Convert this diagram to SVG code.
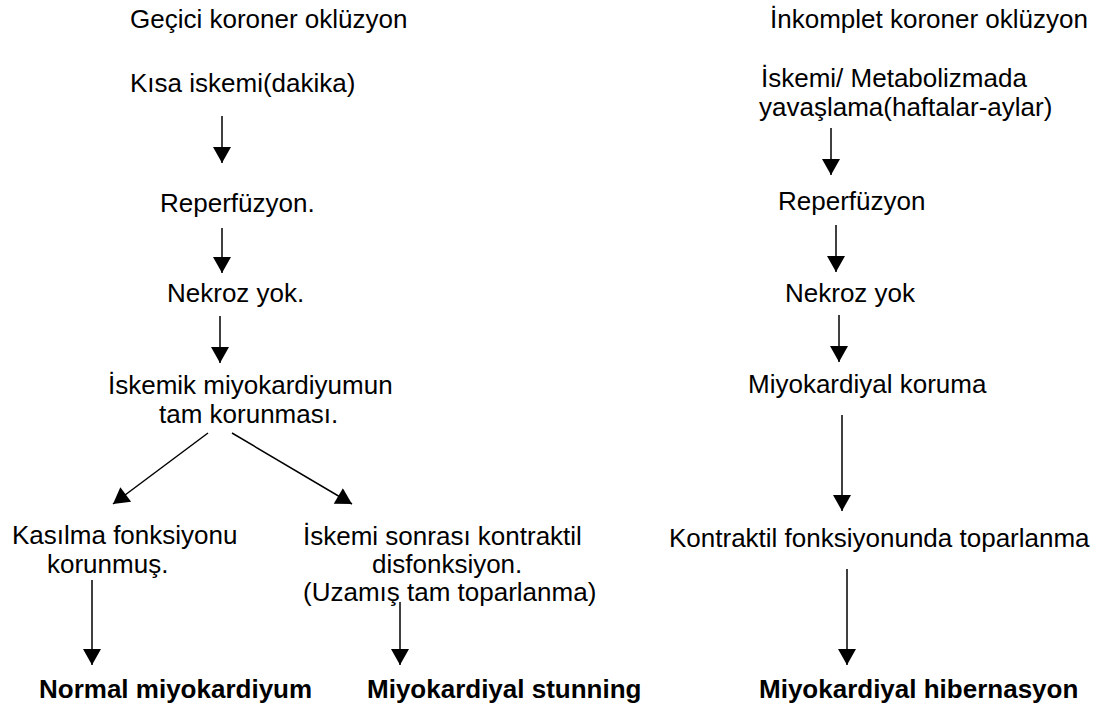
<svg xmlns="http://www.w3.org/2000/svg" width="1110" height="713" viewBox="0 0 1110 713">
<style>
text{font-family:"Liberation Sans",Arial,sans-serif;font-size:26px;fill:#000}
.b{font-weight:bold}
.c line{stroke:#000;stroke-width:1.5;marker-end:url(#ah)}
</style>
<defs>
<marker id="ah" markerUnits="userSpaceOnUse" markerWidth="18" markerHeight="18" refX="15" refY="8.5" orient="auto" viewBox="0 0 15 17">
<path d="M0,0 L15,8.5 L0,17 Z" fill="#000"/>
</marker>
</defs>
<rect width="1110" height="713" fill="#fff"/>
<g id="n1"><text x="130" y="28">Geçici koroner oklüzyon</text></g>
<g id="n2"><text x="130" y="92">Kısa iskemi(dakika)</text></g>
<g id="n3"><text x="160" y="212">Reperfüzyon.</text></g>
<g id="n4"><text x="167" y="302">Nekroz yok.</text></g>
<g id="n5"><text x="108" y="394">İskemik miyokardiyumun</text><text x="159" y="423">tam korunması.</text></g>
<g id="n6"><text x="12" y="544">Kasılma fonksiyonu</text><text x="47" y="573">korunmuş.</text></g>
<g id="n7"><text x="303" y="545">İskemi sonrası kontraktil</text><text x="372" y="573">disfonksiyon.</text><text x="303" y="601">(Uzamış tam toparlanma)</text></g>
<g id="n8"><text class="b" x="39" y="698">Normal miyokardiyum</text></g>
<g id="n9"><text class="b" x="367" y="698">Miyokardiyal stunning</text></g>
<g id="r1"><text x="770" y="28">İnkomplet koroner oklüzyon</text></g>
<g id="r2"><text x="761" y="87">İskemi/ Metabolizmada</text><text x="759" y="116">yavaşlama(haftalar-aylar)</text></g>
<g id="r3"><text x="778" y="210">Reperfüzyon</text></g>
<g id="r4"><text x="785" y="302">Nekroz yok</text></g>
<g id="r5"><text x="748" y="393">Miyokardiyal koruma</text></g>
<g id="r6"><text x="669" y="547">Kontraktil fonksiyonunda toparlanma</text></g>
<g id="r7"><text class="b" x="759" y="698">Miyokardiyal hibernasyon</text></g>
<g id="connectors" class="c">
<line x1="222" y1="116" x2="222" y2="163"/>
<line x1="222" y1="228" x2="222" y2="273"/>
<line x1="220" y1="316" x2="220" y2="363"/>
<line x1="208" y1="433" x2="113" y2="504"/>
<line x1="232" y1="433" x2="352" y2="504"/>
<line x1="92" y1="580" x2="92" y2="665"/>
<line x1="400" y1="602" x2="400" y2="665"/>
<line x1="831" y1="128" x2="831" y2="175"/>
<line x1="836" y1="225" x2="836" y2="272"/>
<line x1="839" y1="315" x2="839" y2="362"/>
<line x1="842" y1="415" x2="842" y2="511"/>
<line x1="847" y1="569" x2="847" y2="665"/>
</g>
</svg>
